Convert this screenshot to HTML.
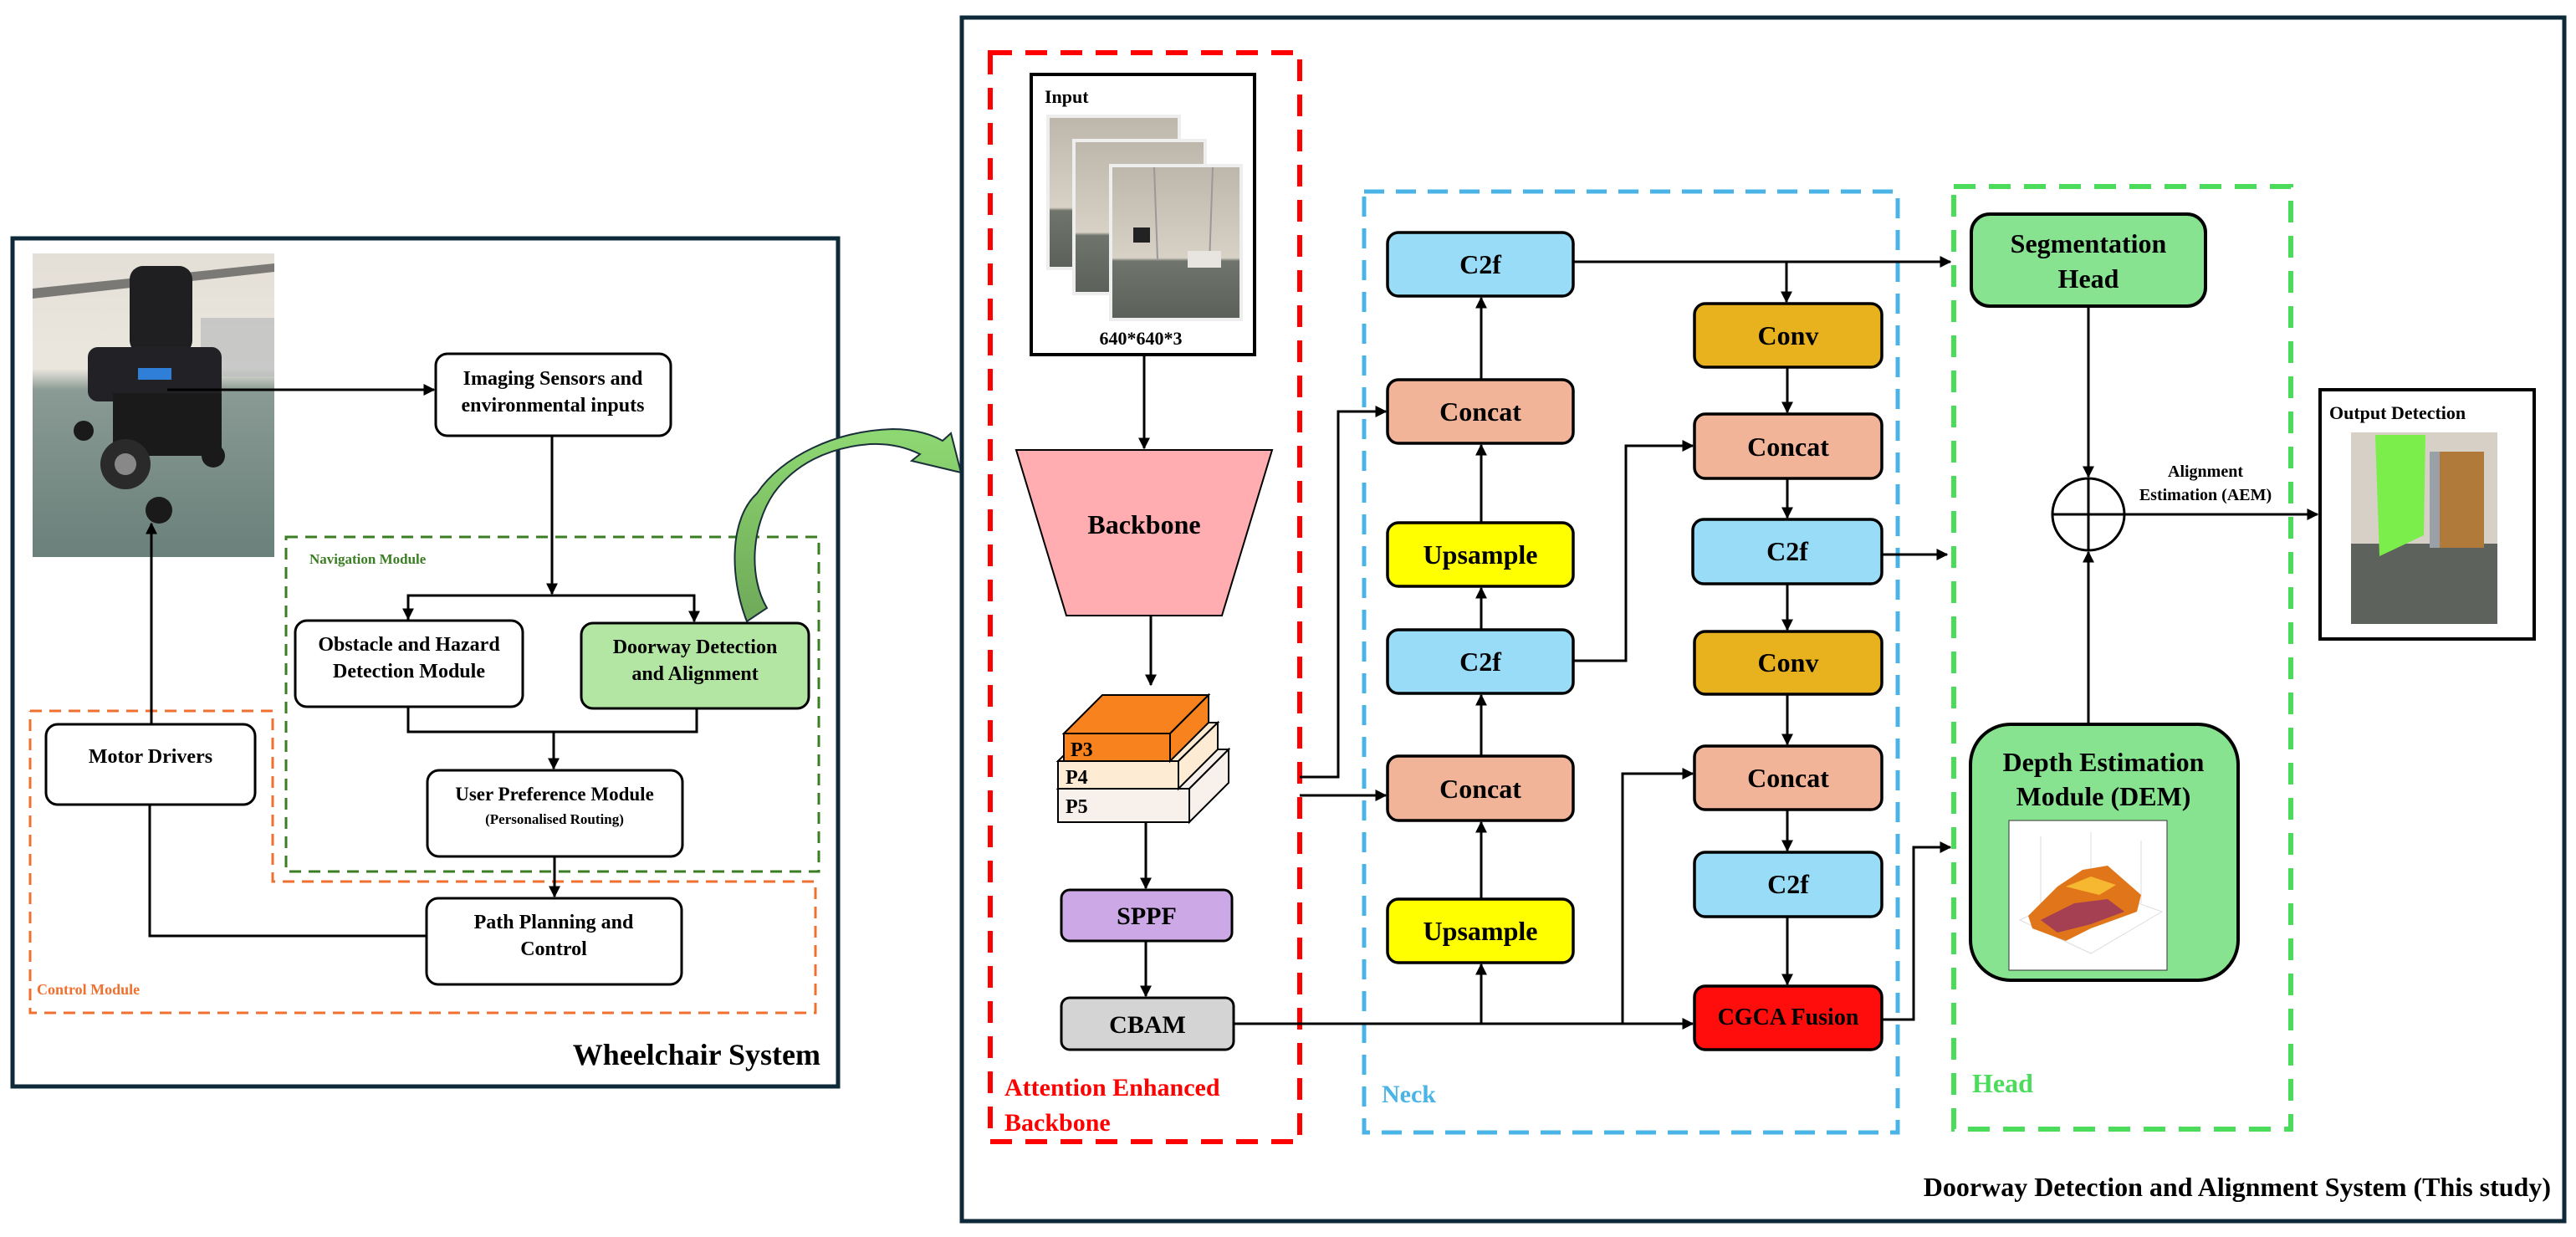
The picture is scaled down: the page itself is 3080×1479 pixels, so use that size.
<!DOCTYPE html>
<html><head><meta charset="utf-8"><style>
html,body{margin:0;padding:0;background:#fff;}
svg{display:block;}
text{font-family:"Liberation Serif",serif;font-weight:bold;fill:#000;}
</style></head><body>
<svg width="3080" height="1479" viewBox="0 0 3080 1479" xmlns="http://www.w3.org/2000/svg">
<defs>
<marker id="ar" viewBox="0 0 10 10" refX="9" refY="5" markerWidth="14" markerHeight="14" markerUnits="userSpaceOnUse" orient="auto"><path d="M0,0 L10,5 L0,10 z" fill="#000"/></marker>
<linearGradient id="ga" x1="0" y1="1" x2="0" y2="0"><stop offset="0" stop-color="#6fa95a"/><stop offset="0.5" stop-color="#7dbf63"/><stop offset="1" stop-color="#8fd974"/></linearGradient>
<linearGradient id="wall" x1="0" y1="0" x2="0" y2="1"><stop offset="0" stop-color="#bdb6aa"/><stop offset="0.6" stop-color="#d8d2c6"/><stop offset="0.62" stop-color="#6f746c"/><stop offset="1" stop-color="#5b615a"/></linearGradient>
<linearGradient id="chairbg" x1="0" y1="0" x2="0" y2="1"><stop offset="0" stop-color="#e4dfd6"/><stop offset="0.38" stop-color="#ebe7df"/><stop offset="0.45" stop-color="#8a9a94"/><stop offset="1" stop-color="#6a807a"/></linearGradient>
</defs>

<!-- LEFT PANEL -->
<rect x="15" y="285" width="987" height="1014" fill="none" stroke="#0e2a3a" stroke-width="5"/>
<!-- wheelchair photo -->
<rect x="39" y="303" width="289" height="363" fill="url(#chairbg)"/>
<polygon points="39,345 328,315 328,325 39,357" fill="#333" opacity="0.6"/>
<rect x="240" y="380" width="88" height="70" fill="#b9bcbd" opacity="0.7"/>
<rect x="155" y="318" width="75" height="105" rx="16" fill="#1f1f22"/>
<rect x="105" y="415" width="160" height="65" rx="12" fill="#222226"/>
<rect x="135" y="470" width="130" height="75" fill="#1a1a1a"/>
<rect x="165" y="440" width="40" height="14" fill="#2f7fd8"/>
<circle cx="150" cy="555" r="30" fill="#2a2a2a"/><circle cx="150" cy="555" r="13" fill="#888"/>
<circle cx="100" cy="515" r="12" fill="#1a1a1a"/><circle cx="255" cy="545" r="14" fill="#1a1a1a"/>
<circle cx="190" cy="610" r="16" fill="#1a1a1a"/>
<!-- imaging -->
<rect x="521" y="423" width="281" height="98" rx="14" fill="#fff" stroke="#000" stroke-width="3"/>
<text x="661" y="460" font-size="24" text-anchor="middle">Imaging Sensors and</text>
<text x="661" y="492" font-size="24" text-anchor="middle">environmental inputs</text>
<line x1="200" y1="466" x2="519" y2="466" stroke="#000" stroke-width="3" marker-end="url(#ar)"/>
<!-- nav module -->
<rect x="342" y="642" width="637" height="400" fill="none" stroke="#3a7d22" stroke-width="3" stroke-dasharray="14,9"/>
<text x="370" y="674" font-size="17" style="fill:#3a7d22">Navigation Module</text>
<!-- control module -->
<polyline points="36,850 326,850 326,1054 975,1054 975,1211 36,1211 36,850" fill="none" stroke="#f07030" stroke-width="3" stroke-dasharray="14,9"/>
<text x="44" y="1189" font-size="18" style="fill:#f07030">Control Module</text>
<line x1="660" y1="521" x2="660" y2="710" stroke="#000" stroke-width="3" marker-end="url(#ar)"/>
<polyline points="488,741 488,712 830,712 830,743" fill="none" stroke="#000" stroke-width="3" marker-end="url(#ar)"/>
<line x1="488" y1="712" x2="488" y2="740" stroke="#000" stroke-width="3" marker-end="url(#ar)"/>
<rect x="353" y="742" width="272" height="103" rx="14" fill="#fff" stroke="#000" stroke-width="3"/>
<text x="489" y="778" font-size="24" text-anchor="middle">Obstacle and Hazard</text>
<text x="489" y="810" font-size="24" text-anchor="middle">Detection Module</text>
<rect x="695" y="745" width="272" height="102" rx="14" fill="#b3e6a3" stroke="#000" stroke-width="3"/>
<text x="831" y="781" font-size="24" text-anchor="middle">Doorway Detection</text>
<text x="831" y="813" font-size="24" text-anchor="middle">and Alignment</text>
<polyline points="488,845 488,875 833,875 833,847" fill="none" stroke="#000" stroke-width="3"/>
<line x1="662" y1="875" x2="662" y2="919" stroke="#000" stroke-width="3" marker-end="url(#ar)"/>
<rect x="511" y="921" width="305" height="103" rx="14" fill="#fff" stroke="#000" stroke-width="3"/>
<text x="663" y="957" font-size="23" text-anchor="middle">User Preference Module</text>
<text x="663" y="985" font-size="17" text-anchor="middle">(Personalised Routing)</text>
<line x1="663" y1="1024" x2="663" y2="1072" stroke="#000" stroke-width="3" marker-end="url(#ar)"/>
<rect x="510" y="1074" width="305" height="103" rx="14" fill="#fff" stroke="#000" stroke-width="3"/>
<text x="662" y="1110" font-size="24" text-anchor="middle">Path Planning and</text>
<text x="662" y="1142" font-size="24" text-anchor="middle">Control</text>
<rect x="55" y="866" width="250" height="96" rx="14" fill="#fff" stroke="#000" stroke-width="3"/>
<text x="180" y="912" font-size="24" text-anchor="middle">Motor Drivers</text>
<line x1="181" y1="866" x2="181" y2="626" stroke="#000" stroke-width="3" marker-end="url(#ar)"/>
<polyline points="179,962 179,1119 510,1119" fill="none" stroke="#000" stroke-width="3"/>
<text x="981" y="1273" font-size="36" text-anchor="end">Wheelchair  System</text>

<!-- green curved arrow -->
<path d="M893,743 C872,690 872,620 905,590 C935,545 1000,515 1067,513 C1095,513 1115,520 1127,527 L1137,518 L1149,565 L1090,551 L1100,543 C1080,533 1060,530 1040,531 C990,535 950,555 925,590 C898,630 895,690 917,727 Z" fill="url(#ga)" stroke="#1a2f3a" stroke-width="2"/>

<!-- RIGHT PANEL -->
<rect x="1150" y="21" width="1916" height="1439" fill="none" stroke="#0e2a3a" stroke-width="5"/>
<text x="3050" y="1430" font-size="32" text-anchor="end">Doorway Detection and Alignment System (This study)</text>

<!-- backbone region -->
<rect x="1184" y="63" width="370" height="1302" fill="none" stroke="#ff0000" stroke-width="6" stroke-dasharray="26,16"/>
<text x="1201" y="1310" font-size="30" style="fill:#ff0000">Attention Enhanced</text>
<text x="1201" y="1352" font-size="30" style="fill:#ff0000">Backbone</text>
<rect x="1233" y="89" width="267" height="335" fill="#fff" stroke="#000" stroke-width="4"/>
<text x="1249" y="123" font-size="22">Input</text>
<rect x="1253" y="139" width="157" height="182" fill="url(#wall)" stroke="#eee" stroke-width="4"/>
<rect x="1284" y="168" width="157" height="183" fill="url(#wall)" stroke="#eee" stroke-width="4"/>
<rect x="1328" y="198" width="156" height="184" fill="url(#wall)" stroke="#eee" stroke-width="4"/>
<line x1="1380" y1="200" x2="1384" y2="310" stroke="#999" stroke-width="2"/>
<line x1="1450" y1="200" x2="1446" y2="315" stroke="#999" stroke-width="2"/>
<rect x="1355" y="272" width="20" height="18" fill="#222"/>
<rect x="1420" y="300" width="40" height="20" fill="#e8e4e0"/>
<text x="1364" y="412" font-size="22" text-anchor="middle">640*640*3</text>
<line x1="1368" y1="424" x2="1368" y2="536" stroke="#000" stroke-width="3" marker-end="url(#ar)"/>
<polygon points="1215,538 1521,538 1461,736 1275,736" fill="#ffadb0" stroke="#000" stroke-width="2"/>
<text x="1368" y="638" font-size="32" text-anchor="middle">Backbone</text>
<line x1="1376" y1="736" x2="1376" y2="819" stroke="#000" stroke-width="3" marker-end="url(#ar)"/>
<!-- P stack -->
<polygon points="1265,943 1312,896 1469,896 1422,943" fill="#f8f0ea" stroke="#000" stroke-width="2"/>
<polygon points="1422,943 1469,896 1469,936 1422,983" fill="#f8f0ea" stroke="#000" stroke-width="2"/>
<rect x="1265" y="943" width="157" height="40" fill="#f8f0ea" stroke="#000" stroke-width="2"/>
<polygon points="1265,910 1311,864 1456,864 1409,910" fill="#fdebd3" stroke="#000" stroke-width="2"/>
<polygon points="1409,910 1456,864 1456,896 1409,943" fill="#fdebd3" stroke="#000" stroke-width="2"/>
<rect x="1265" y="910" width="144" height="33" fill="#fdebd3" stroke="#000" stroke-width="2"/>
<polygon points="1272,877 1318,831 1445,831 1399,877" fill="#f7821e" stroke="#000" stroke-width="2"/>
<polygon points="1399,877 1445,831 1445,864 1399,910" fill="#f7821e" stroke="#000" stroke-width="2"/>
<rect x="1272" y="877" width="127" height="33" fill="#f7821e" stroke="#000" stroke-width="2"/>
<text x="1280" y="904" font-size="24">P3</text>
<text x="1274" y="937" font-size="24">P4</text>
<text x="1274" y="972" font-size="24">P5</text>
<line x1="1370" y1="983" x2="1370" y2="1062" stroke="#000" stroke-width="3" marker-end="url(#ar)"/>
<rect x="1269" y="1064" width="204" height="61" rx="10" fill="#cda8e6" stroke="#000" stroke-width="3"/>
<text x="1371" y="1105" font-size="30" text-anchor="middle">SPPF</text>
<line x1="1370" y1="1125" x2="1370" y2="1191" stroke="#000" stroke-width="3" marker-end="url(#ar)"/>
<rect x="1269" y="1193" width="206" height="62" rx="10" fill="#d4d4d4" stroke="#000" stroke-width="3"/>
<text x="1372" y="1235" font-size="30" text-anchor="middle">CBAM</text>

<!-- neck -->
<rect x="1631" y="229" width="638" height="1125" fill="none" stroke="#4ab4e6" stroke-width="5" stroke-dasharray="24,14"/>
<text x="1652" y="1318" font-size="30" style="fill:#4ab4e6">Neck</text>
<g stroke="#000" stroke-width="3" fill="none">
<polyline points="1554,929 1600,929 1600,492 1657,492" marker-end="url(#ar)"/>
<line x1="1554" y1="951" x2="1657" y2="951" marker-end="url(#ar)"/>
<line x1="1475" y1="1224" x2="2024" y2="1224" marker-end="url(#ar)"/>
<line x1="1771" y1="1224" x2="1771" y2="1153" marker-end="url(#ar)"/>
<polyline points="1940,1224 1940,925 2024,925" marker-end="url(#ar)"/>
<line x1="1771" y1="1075" x2="1771" y2="983" marker-end="url(#ar)"/>
<line x1="1771" y1="904" x2="1771" y2="831" marker-end="url(#ar)"/>
<line x1="1771" y1="753" x2="1771" y2="703" marker-end="url(#ar)"/>
<line x1="1771" y1="625" x2="1771" y2="532" marker-end="url(#ar)"/>
<line x1="1771" y1="454" x2="1771" y2="356" marker-end="url(#ar)"/>
<polyline points="1881,790 1944,790 1944,533 2024,533" marker-end="url(#ar)"/>
<line x1="1881" y1="313" x2="2332" y2="313" marker-end="url(#ar)"/>
<line x1="2136" y1="313" x2="2136" y2="361" marker-end="url(#ar)"/>
<line x1="2137" y1="439" x2="2137" y2="493" marker-end="url(#ar)"/>
<line x1="2137" y1="572" x2="2137" y2="619" marker-end="url(#ar)"/>
<line x1="2137" y1="698" x2="2137" y2="753" marker-end="url(#ar)"/>
<line x1="2137" y1="830" x2="2137" y2="890" marker-end="url(#ar)"/>
<line x1="2137" y1="968" x2="2137" y2="1017" marker-end="url(#ar)"/>
<line x1="2137" y1="1096" x2="2137" y2="1177" marker-end="url(#ar)"/>
<line x1="2250" y1="663" x2="2328" y2="663" marker-end="url(#ar)"/>
<polyline points="2250,1219 2288,1219 2288,1013 2332,1013" marker-end="url(#ar)"/>
</g>
<g stroke="#000" stroke-width="3.5">
<rect x="1659" y="278" width="222" height="76" rx="13" fill="#99dcf7"/>
<rect x="1659" y="454" width="222" height="76" rx="13" fill="#f2b499"/>
<rect x="1659" y="625" width="222" height="76" rx="13" fill="#ffff00"/>
<rect x="1659" y="753" width="222" height="76" rx="13" fill="#99dcf7"/>
<rect x="1659" y="904" width="222" height="77" rx="13" fill="#f2b499"/>
<rect x="1659" y="1075" width="222" height="76" rx="13" fill="#ffff00"/>
<rect x="2026" y="363" width="224" height="76" rx="13" fill="#e8b11e"/>
<rect x="2026" y="495" width="224" height="77" rx="13" fill="#f2b499"/>
<rect x="2024" y="621" width="226" height="77" rx="13" fill="#99dcf7"/>
<rect x="2026" y="755" width="224" height="75" rx="13" fill="#e8b11e"/>
<rect x="2026" y="892" width="224" height="76" rx="13" fill="#f2b499"/>
<rect x="2026" y="1019" width="224" height="77" rx="13" fill="#99dcf7"/>
<rect x="2026" y="1179" width="224" height="76" rx="13" fill="#ff0d0d"/>
</g>
<g font-size="32" text-anchor="middle">
<text x="1770" y="327">C2f</text>
<text x="1770" y="503">Concat</text>
<text x="1770" y="674">Upsample</text>
<text x="1770" y="802">C2f</text>
<text x="1770" y="954">Concat</text>
<text x="1770" y="1124">Upsample</text>
<text x="2138" y="412">Conv</text>
<text x="2138" y="545">Concat</text>
<text x="2137" y="670">C2f</text>
<text x="2138" y="803">Conv</text>
<text x="2138" y="941">Concat</text>
<text x="2138" y="1068">C2f</text>
<text x="2138" y="1225" font-size="28">CGCA Fusion</text>
</g>

<!-- head -->
<rect x="2336" y="223" width="403" height="1127" fill="none" stroke="#4cdc5c" stroke-width="6" stroke-dasharray="26,16"/>
<text x="2358" y="1306" font-size="32" style="fill:#4cdc5c">Head</text>
<rect x="2357" y="256" width="280" height="110" rx="22" fill="#88e391" stroke="#000" stroke-width="4"/>
<text x="2497" y="302" font-size="32" text-anchor="middle">Segmentation</text>
<text x="2497" y="344" font-size="32" text-anchor="middle">Head</text>
<line x1="2497" y1="366" x2="2497" y2="570" stroke="#000" stroke-width="3" marker-end="url(#ar)"/>
<line x1="2497" y1="866" x2="2497" y2="660" stroke="#000" stroke-width="3" marker-end="url(#ar)"/>
<circle cx="2497" cy="615" r="43" fill="#fff" stroke="#000" stroke-width="3"/>
<line x1="2454" y1="615" x2="2540" y2="615" stroke="#000" stroke-width="3"/>
<line x1="2497" y1="572" x2="2497" y2="658" stroke="#000" stroke-width="3"/>
<line x1="2540" y1="615" x2="2771" y2="615" stroke="#000" stroke-width="3" marker-end="url(#ar)"/>
<text x="2637" y="570" font-size="20" text-anchor="middle">Alignment</text>
<text x="2637" y="598" font-size="20" text-anchor="middle">Estimation (AEM)</text>
<rect x="2356" y="866" width="320" height="306" rx="48" fill="#88e391" stroke="#000" stroke-width="4"/>
<text x="2515" y="922" font-size="32" text-anchor="middle">Depth Estimation</text>
<text x="2515" y="963" font-size="32" text-anchor="middle">Module (DEM)</text>
<rect x="2402" y="981" width="189" height="179" fill="#fff" stroke="#333" stroke-width="1"/>
<g stroke="#ddd" stroke-width="1" fill="none">
<polygon points="2415,1100 2500,1060 2585,1090 2500,1140"/>
<line x1="2440" y1="1000" x2="2440" y2="1088"/><line x1="2500" y1="995" x2="2500" y2="1060"/><line x1="2560" y1="1005" x2="2560" y2="1080"/>
</g>
<path d="M2425,1095 L2460,1060 L2490,1040 L2520,1035 L2560,1070 L2555,1090 L2500,1110 L2470,1125 L2430,1110 Z" fill="#e0751a"/>
<path d="M2440,1100 L2480,1080 L2520,1075 L2540,1090 L2500,1105 L2460,1115 Z" fill="#8a2a6a" opacity="0.7"/>
<path d="M2470,1060 L2500,1048 L2530,1058 L2510,1070 Z" fill="#f5b830"/>
<!-- output -->
<rect x="2774" y="466" width="256" height="298" fill="#fff" stroke="#000" stroke-width="4"/>
<text x="2785" y="501" font-size="22">Output Detection</text>
<rect x="2811" y="517" width="175" height="229" fill="#d6d0c6"/>
<rect x="2811" y="650" width="175" height="96" fill="#5d625c"/>
<polygon points="2840,520 2900,520 2898,640 2845,665" fill="#7bee4c"/>
<rect x="2915" y="540" width="55" height="115" fill="#b07a3a"/>
<rect x="2905" y="540" width="12" height="115" fill="#9aa0a8"/>
</svg>
</body></html>
